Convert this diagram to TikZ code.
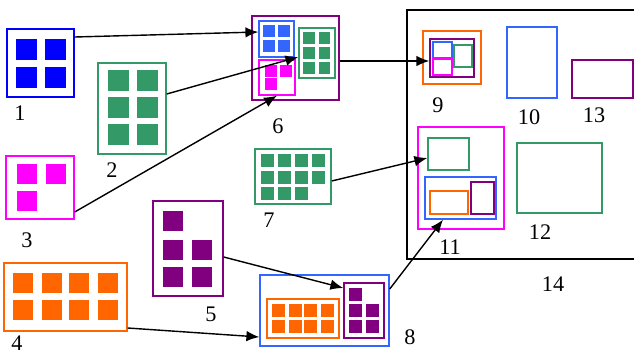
\documentclass[tikz,border=0pt]{standalone}
\usepackage{fontspec}
\setmainfont{Liberation Serif}
\usepackage{tikz}
\usetikzlibrary{arrows.meta,fit,positioning}

\definecolor{pblue}{RGB}{0,0,255}
\definecolor{lblue}{RGB}{51,102,255}
\definecolor{sgreen}{RGB}{51,153,102}
\definecolor{pmagenta}{RGB}{255,0,255}
\definecolor{porange}{RGB}{255,102,0}
\definecolor{ppurple}{RGB}{128,0,128}

\begin{document}
\begin{tikzpicture}[x=0.03cm,y=-0.03cm,>={Latex[length=11pt,width=9pt]},
	frame/.style={draw=#1, line width=1.2pt, inner sep=0pt},
	lab/.style={font=\fontsize{19}{22}\selectfont, inner sep=0pt},
	link/.style={->, line width=1.2pt}]
	\useasboundingbox (0,0) rectangle (634,354);

	% left column of groups
	\node[frame=pblue, fit={(7,29) (74,97)}] (b1) {};
	\foreach \x in {16,45} \foreach \y in {39,67} \fill[pblue] (\x,\y) rectangle ++(21,21);
	\node[lab] (l1) at (20,113) {1};

	\node[frame=sgreen, fit={(98,63) (166,154)}] (b2) {};
	\foreach \x in {108,137} \foreach \y in {70,97,124} \fill[sgreen] (\x,\y) rectangle ++(21,21);
	\node[lab] (l2) at (112,170) {2};

	\node[frame=pmagenta, fit={(6,156) (74,219)}] (b3) {};
	\foreach \x/\y in {17/164,46/164,17/191} \fill[pmagenta] (\x,\y) rectangle ++(20,20);
	\node[lab] (l3) at (27,240) {3};

	\node[frame=porange, fit={(4,263) (127,331)}] (b4) {};
	\foreach \x in {13,42,69,98} \foreach \y in {273,300} \fill[porange] (\x,\y) rectangle ++(20,20);
	\node[lab] (l4) at (17,343) {4};

	\node[frame=ppurple, fit={(153,201) (223,296)}] (b5) {};
	\foreach \x/\y in {163/211,163/240,192/240,163/267,192/267} \fill[ppurple] (\x,\y) rectangle ++(20,20);
	\node[lab] (l5) at (211,314) {5};

	% group 6
	\node[frame=ppurple, fit={(252,16) (339,100)}] (b6) {};
	\node[frame=lblue, fit={(259,21) (294,57)}] (b6a) {};
	\foreach \x in {263,278} \foreach \y in {25,40} \fill[lblue] (\x,\y) rectangle ++(12,12);
	\node[frame=sgreen, fit={(299,28) (335,78)}] (b6b) {};
	\foreach \x in {303,318.5} \foreach \y in {32,47,62} \fill[sgreen] (\x,\y) rectangle ++(11.5,11.5);
	\node[frame=pmagenta, fit={(259,60) (295,95)}] (b6c) {};
	\foreach \x/\y in {265/65,280/65,265/78} \fill[pmagenta] (\x,\y) rectangle ++(12,12);
	\node[lab] (l6) at (278,126) {6};

	% group 7
	\node[frame=sgreen, fit={(255,149) (331,204)}] (b7) {};
	\foreach \x/\y in {261/154,278/154,295/154,312/154,261/171,278/171,295/171,312/171,261/187,278/187,295/187}
		\fill[sgreen] (\x,\y) rectangle ++(12.5,12.5);
	\node[lab] (l7) at (269,220) {7};

	% group 8
	\node[frame=lblue, fit={(260,275) (389,346)}] (b8) {};
	\node[frame=porange, fit={(267,299) (339,338)}] (b8a) {};
	\foreach \x in {272,289,304,321} \foreach \y in {304,320} \fill[porange] (\x,\y) rectangle ++(13,13);
	\node[frame=ppurple, fit={(344,283) (384,338)}] (b8b) {};
	\foreach \x/\y in {349/288,349/304,366/304,349/320,366/320} \fill[ppurple] (\x,\y) rectangle ++(12.5,12.5);
	\node[lab] (l8) at (410,337) {8};

	% big frame 14
	\draw[line width=1.6pt] (640,10) -- (407,10) -- (407,259) -- (640,259);
	\node[lab] (l14) at (553,284) {14};

	\node[frame=porange, fit={(423,31) (481,84)}] (b9) {};
	\node[frame=ppurple, fit={(430,39) (474,77)}] (b9a) {};
	\node[frame=lblue, fit={(433,42) (452,58)}] (b9b) {};
	\node[frame=sgreen, fit={(454,45) (472,67)}] (b9c) {};
	\node[frame=pmagenta, fit={(433,59) (452,75)}] (b9d) {};
	\node[lab] (l9) at (438,105) {9};

	\node[frame=lblue, fit={(507,27) (557,98)}] (b10) {};
	\node[lab] (l10) at (529,117) {10};

	\node[frame=ppurple, fit={(572,60) (633,98)}] (b13) {};
	\node[lab] (l13) at (594,115) {13};

	\node[frame=pmagenta, fit={(418,127) (504,229)}] (b11) {};
	\node[frame=sgreen, fit={(428,138) (469,170)}] (b11a) {};
	\node[frame=lblue, fit={(425,177) (496,219)}] (b11b) {};
	\node[frame=porange, fit={(430,191) (468,214)}] (b11c) {};
	\node[frame=ppurple, fit={(471,182) (494,214)}] (b11d) {};
	\node[lab] (l11) at (450,247) {11};

	\node[frame=sgreen, fit={(517,143) (602,213)}] (b12) {};
	\node[lab] (l12) at (540,232) {12};

	% arrows
	\draw[link] (b1.east |- 0,37) -- (b6a.west |- 0,32);
	\draw[link] (b2.east |- 0,94) -- (b6b.west |- 0,57);
	\draw[link] (b3.east |- 0,212) -- (b6c.south -| 277,0);
	\draw[link] (b6.east |- 0,61) -- (b9a.west |- 0,61);
	\draw[link] (b7.east |- 0,181) -- (b11a.west |- 0,158);
	\draw[link] (b5.east |- 0,257) -- (b8b.west |- 0,288);
	\draw[link] (b4.east |- 0,328) -- (b8.west |- 0,337);
	\draw[link] (b8.east |- 0,289) -- (b11b.south -| 443,0);
\end{tikzpicture}
\end{document}
